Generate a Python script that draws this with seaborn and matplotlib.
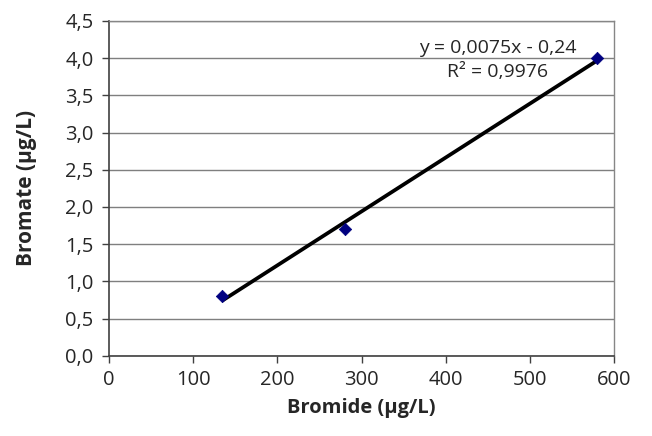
import matplotlib
matplotlib.use("Agg")
import matplotlib.pyplot as plt
import matplotlib.ticker as mticker
import seaborn as sns
import pandas as pd

# data
bromide = [134, 280, 580]
bromate = [0.8, 1.7, 4.0]
eq_text = "y = 0,0075x - 0,24"
r2_text = "R² = 0,9976"
x_ticks = [0, 100, 200, 300, 400, 500, 600]
y_ticks = [0.0, 0.5, 1.0, 1.5, 2.0, 2.5, 3.0, 3.5, 4.0, 4.5]

df = pd.DataFrame({"Bromide": bromide, "Bromate": bromate})

sns.set_style("white")
plt.rcParams["font.family"] = ["Open Sans", "DejaVu Sans"]

fig = plt.figure(figsize=(6.52, 4.36), dpi=100)
ax = fig.add_axes([0.167, 0.184, 0.775, 0.768])

# trendline (linear fit) then markers
sns.regplot(data=df, x="Bromide", y="Bromate", ci=None, scatter=False,
            line_kws={"color": "black", "lw": 2.7, "solid_capstyle": "butt"}, ax=ax)
sns.scatterplot(data=df, x="Bromide", y="Bromate", marker="D", s=40,
                color="#000080", edgecolor="#000080", zorder=4, ax=ax)

ax.set_xlim(0, 600)
ax.set_ylim(0, 4.5)
ax.set_xticks(x_ticks)
ax.set_yticks(y_ticks)
ax.yaxis.set_major_formatter(mticker.FuncFormatter(lambda v, p: f"{v:.1f}".replace(".", ",")))
ax.xaxis.set_major_formatter(mticker.FuncFormatter(lambda v, p: f"{v:.0f}"))
ax.yaxis.grid(True, color="#7f7f7f", lw=1)
ax.set_axisbelow(True)

for s in ["top", "right"]:
    ax.spines[s].set_color("#868686")
    ax.spines[s].set_linewidth(1)
for s in ["left", "bottom"]:
    ax.spines[s].set_color("#404040")
    ax.spines[s].set_linewidth(1.2)

ax.tick_params(axis="both", direction="out", length=5, width=1, color="#404040",
               labelsize=14.5, left=True, bottom=True)
ax.tick_params(axis="x", pad=5)
ax.tick_params(axis="y", pad=6)

ax.set_xlabel("Bromide (µg/L)", fontsize=14.5, fontweight="bold", labelpad=6)
ax.set_ylabel("Bromate (µg/L)", fontsize=15, fontweight="bold", labelpad=20)

ax.text(462, 4.14, eq_text, ha="center", va="center", fontsize=14)
ax.text(462, 3.815, r2_text, ha="center", va="center", fontsize=14)

fig.savefig("out.png", dpi=100)
